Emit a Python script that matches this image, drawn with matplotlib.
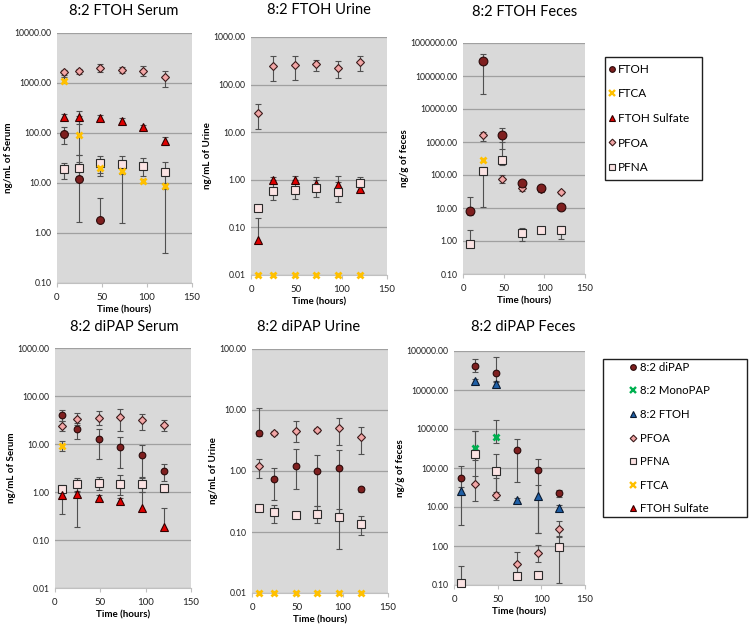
import matplotlib
matplotlib.use("Agg")
import matplotlib.pyplot as plt
from matplotlib.lines import Line2D
from matplotlib.patches import Rectangle
from matplotlib.ticker import FixedLocator, FuncFormatter, NullLocator
import numpy as np

plt.rcParams['font.family'] = ['Lato', 'DejaVu Sans']

times = [8, 24, 48, 72, 96, 120]

# ---------- 8:2 FTOH Serum ----------
s1_ftoh = [94, 12, 1.86, None, None, None]
s1_ftoh_hi = [130, 36, 5, None, None, None]
s1_ftoh_lo = [60, 1.67, 1.86, None, None, None]
s1_ftca = [1120, 91, 19.5, 17.6, 10.9, 8.7]
s1_ftca_hi = [1300, 220, 22, 20, 12, 10]
s1_ftca_lo = [980, 37, 16, 15, 10, 7.5]
s1_sulf = [213, 205, 200, 175, 130, 68]
s1_sulf_hi = [240, 275, 225, 195, 145, 85]
s1_sulf_lo = [190, 150, 180, 160, 118, 58]
s1_pfoa = [1650, 1700, 2000, 1840, 1760, 1310]
s1_pfoa_hi = [1850, 1900, 2350, 2100, 2150, 1760]
s1_pfoa_lo = [1450, 1500, 1650, 1550, 1400, 826]
s1_pfna = [18.7, 20, 25.5, 23.5, 22, 16.8]
s1_pfna_hi = [25, 26, 34, 34, 31, 26]
s1_pfna_lo = [12, 14, 13.5, 1.6, 14, 0.4]

# ---------- 8:2 FTOH Urine ----------
u1_ftca = [0.01, 0.01, 0.01, 0.01, 0.01, 0.01]
u1_sulf = [0.055, 1.0, 1.0, 0.82, 0.76, 0.64]
u1_sulf_hi = [0.158, 1.15, 1.2, 1.0, 0.9, 0.7]
u1_sulf_lo = [0.05, 0.85, 0.85, 0.7, 0.65, 0.58]
u1_pfoa = [25.3, 250, 255, 271, 220, 303]
u1_pfoa_hi = [40, 390, 400, 334, 307, 405]
u1_pfoa_lo = [11.7, 121, 127, 196, 137, 196]
u1_pfna = [0.256, 0.57, 0.62, 0.66, 0.56, 0.84]
u1_pfna_hi = [0.3, 1.0, 1.0, 1.13, 1.2, 1.13]
u1_pfna_lo = [0.22, 0.37, 0.4, 0.43, 0.35, 0.56]

# ---------- 8:2 FTOH Feces ----------
f1_ftoh = [8.2, 285000, 1680, 58, 39, 10.6]
f1_ftoh_hi = [22, 475000, 2650, 65, 46, 12]
f1_ftoh_lo = [6, 29000, 630, 50, 30, 9]
f1_ftca = [None, 293, None, None, None, None]
f1_pfoa = [None, 1600, 78, 39, 37, 29.5]
f1_pfoa_hi = [None, 2000, 100, 45, 44, 33]
f1_pfoa_lo = [None, 1100, 58, 32, 30, 26]
f1_pfna = [0.79, 133, 293, 1.8, 2.1, 2.1]
f1_pfna_hi = [2.1, 180, 1000, 2.5, 2.4, 2.8]
f1_pfna_lo = [0.7, 10.5, 200, 1.0, 1.8, 1.15]

# ---------- 8:2 diPAP Serum ----------
s2_dipap = [40.8, 20.5, 12.7, 8.5, 5.8, 2.8]
s2_dipap_hi = [52, 27, 21, 14, 9.6, 3.9]
s2_dipap_lo = [30, 13, 4.8, 3.1, 2.1, 1.7]
s2_pfoa = [23.3, 33.7, 35, 36.7, 32, 25]
s2_pfoa_hi = [30, 44, 48, 53, 43, 31]
s2_pfoa_lo = [19, 25, 25, 19, 20, 19]
s2_pfna = [1.17, 1.5, 1.54, 1.5, 1.5, 1.23]
s2_pfna_hi = [1.4, 2.0, 2.1, 2.3, 2.0, 1.5]
s2_pfna_lo = [1.0, 1.05, 1.1, 0.85, 1.0, 1.0]
s2_ftca = [9.2, None, None, None, None, None]
s2_ftca_hi = [11.5, None, None, None, None, None]
s2_ftca_lo = [7.2, None, None, None, None, None]
s2_sulf = [0.88, 0.9, 0.75, 0.66, 0.46, 0.19]
s2_sulf_hi = [1.0, 1.0, 0.85, 0.75, 1.0, 0.46]
s2_sulf_lo = [0.34, 0.19, 0.65, 0.58, 0.4, 0.17]

# ---------- 8:2 diPAP Urine ----------
u2_dipap = [4.27, 0.73, 1.2, 1.0, 1.1, 0.5]
u2_dipap_hi = [10.7, 1.1, 2.3, 1.85, 2.2, 0.55]
u2_dipap_lo = [3.8, 0.34, 0.5, 0.27, 0.17, 0.45]
u2_pfoa = [1.22, 4.27, 4.5, 4.7, 5.0, 3.6]
u2_pfoa_hi = [1.6, 4.6, 6.5, 5.1, 7.3, 5.3]
u2_pfoa_lo = [0.78, 3.9, 3.0, 4.3, 2.7, 1.9]
u2_pfna = [0.25, 0.21, 0.187, 0.2, 0.174, 0.136]
u2_pfna_hi = [0.27, 0.28, 0.2, 0.27, 0.24, 0.18]
u2_pfna_lo = [0.23, 0.14, 0.175, 0.14, 0.053, 0.09]
u2_ftca = [0.01, 0.01, 0.01, 0.01, 0.01, 0.01]

# ---------- 8:2 diPAP Feces ----------
f2_dipap = [56, 41300, 27300, 287, 88, 22.3]
f2_dipap_hi = [114, 61000, 69000, 570, 175, 28]
f2_dipap_lo = [3.5, 29000, 16000, 43, 2.1, 18]
f2_mono = [None, 329, 630, None, None, None]
f2_mono_hi = [None, 880, 1750, None, None, None]
f2_mono_lo = [None, 160, 425, None, None, None]
f2_ftoh = [26, 16700, 14600, 15, 19.4, 9.6]
f2_ftoh_hi = [32, 19000, 17000, 17, 37, 11]
f2_ftoh_lo = [20, 14000, 12500, 13, 2.1, 8.5]
f2_pfoa = [None, 39.4, 20.2, 0.34, 0.68, 2.67]
f2_pfoa_hi = [None, 63, 55, 0.7, 1.05, 4.5]
f2_pfoa_lo = [None, 14.3, 15, 0.2, 0.38, 1.75]
f2_pfna = [0.11, 226, 85, 0.174, 0.18, 0.96]
f2_pfna_hi = [0.3, 870, 230, 0.2, 0.21, 1.8]
f2_pfna_lo = [0.1, 40, 24, 0.15, 0.15, 0.11]

leg1_labels = ['FTOH', 'FTCA', 'FTOH Sulfate', 'PFOA', 'PFNA']
leg2_labels = ['8:2 diPAP', '8:2 MonoPAP', '8:2 FTOH', 'PFOA', 'PFNA', 'FTCA', 'FTOH Sulfate']

# ---------- styles ----------
C_DARKRED = '#7F1F1F'
C_YEL = '#FFC000'
C_RED = '#E00000'
C_PINK = '#F2A6A6'
C_LPINK = '#FBE3E3'
C_GREEN = '#00B050'
C_BLUE = '#1F5FA6'

STY = {
    'circle': dict(marker='o', mfc=C_DARKRED, mec='#2a0a0a', ms=5.6, mew=0.8),
    'circle_b': dict(marker='o', mfc=C_DARKRED, mec='#2a0a0a', ms=6.3, mew=0.8),
    'circle_s': dict(marker='o', mfc=C_DARKRED, mec='#2a0a0a', ms=4.8, mew=0.8),
    'x': dict(marker='x', mfc=C_YEL, mec=C_YEL, ms=4.6, mew=2.0),
    'xg': dict(marker='x', mfc=C_GREEN, mec=C_GREEN, ms=4.6, mew=2.0),
    'tri': dict(marker='^', mfc=C_RED, mec='#300000', ms=5.6, mew=0.8),
    'trib': dict(marker='^', mfc=C_BLUE, mec='#0a1a30', ms=5.2, mew=0.8),
    'dia': dict(marker='D', mfc=C_PINK, mec='#3a1a1a', ms=4.0, mew=0.8),
    'sq': dict(marker='s', mfc=C_LPINK, mec='#2a2a2a', ms=5.3, mew=0.8),
}


def series(ax, y, hi=None, lo=None, style='circle'):
    xs, ys, eh, el = [], [], [], []
    for i, v in enumerate(y):
        if v is None:
            continue
        xs.append(times[i])
        ys.append(v)
        if hi is not None:
            eh.append(max(hi[i] - v, 0))
            el.append(max(v - lo[i], 0))
    if hi is not None:
        ax.errorbar(xs, ys, yerr=[el, eh], fmt='none', ecolor='#505050',
                    elinewidth=0.8, capsize=2.3, capthick=0.8, zorder=3)
    ax.plot(xs, ys, linestyle='none', zorder=4, clip_on=False, **STY[style])


W, H = 755.0, 625.0
fig = plt.figure(figsize=(7.55, 6.25), dpi=100)


def mkax(x0, x1, y0, y1):
    return fig.add_axes([x0 / W, (H - y1) / H, (x1 - x0) / W, (y1 - y0) / H])


def setup(ax, ymin, ymax, title, ylabel, tx, ty):
    ax.set_facecolor('#D9D9D9')
    ax.set_yscale('log')
    ax.set_ylim(ymin, ymax)
    ax.set_xlim(0, 150)
    dec = np.arange(int(round(np.log10(ymin))), int(round(np.log10(ymax))) + 1)
    ticks = [10.0 ** d for d in dec]
    ax.yaxis.set_major_locator(FixedLocator(ticks))
    ax.yaxis.set_minor_locator(NullLocator())
    ax.yaxis.set_major_formatter(FuncFormatter(lambda v, p: '%.2f' % v))
    ax.set_xticks([0, 50, 100, 150])
    ax.grid(axis='y', color='#A0A0A0', linewidth=0.9)
    ax.set_axisbelow(True)
    for s in ['top', 'right', 'left']:
        ax.spines[s].set_visible(False)
    ax.spines['bottom'].set_color('#C0C0C0')
    ax.tick_params(axis='y', length=0, labelsize=6.2, pad=4, colors='#202020')
    ax.tick_params(axis='x', length=3, color='#C0C0C0', labelsize=7, pad=4, colors='#202020')
    ax.set_ylabel(ylabel, fontsize=7, fontweight='bold', labelpad=1)
    ax.set_xlabel('Time (hours)', fontsize=7, fontweight='bold', labelpad=3)
    fig.text(tx / W, 1 - ty / H, title, fontsize=10.5, ha='center', va='center')


# Panel 1
ax = mkax(57, 192, 33, 283)
setup(ax, 0.1, 10000, '8:2 FTOH Serum', 'ng/mL of Serum', 124, 11)
series(ax, s1_pfoa, s1_pfoa_hi, s1_pfoa_lo, 'dia')
series(ax, s1_sulf, s1_sulf_hi, s1_sulf_lo, 'tri')
series(ax, s1_pfna, s1_pfna_hi, s1_pfna_lo, 'sq')
series(ax, s1_ftoh, s1_ftoh_hi, s1_ftoh_lo, 'circle')
series(ax, s1_ftca, s1_ftca_hi, s1_ftca_lo, 'x')

# Panel 2
ax = mkax(251, 387, 37, 275)
setup(ax, 0.01, 1000, '8:2 FTOH Urine', 'ng/mL of Urine', 319, 10)
series(ax, u1_pfoa, u1_pfoa_hi, u1_pfoa_lo, 'dia')
series(ax, u1_sulf, u1_sulf_hi, u1_sulf_lo, 'tri')
series(ax, u1_pfna, u1_pfna_hi, u1_pfna_lo, 'sq')
series(ax, u1_ftca, None, None, 'x')

# Panel 3
ax = mkax(463, 585, 43, 274)
setup(ax, 0.1, 1000000, '8:2 FTOH Feces', 'ng/g of feces', 525, 12)
series(ax, f1_pfoa, f1_pfoa_hi, f1_pfoa_lo, 'dia')
series(ax, f1_pfna, f1_pfna_hi, f1_pfna_lo, 'sq')
series(ax, f1_ftoh, f1_ftoh_hi, f1_ftoh_lo, 'circle_b')
series(ax, f1_ftca, None, None, 'x')

# Panel 4
ax = mkax(55, 191, 348, 588)
setup(ax, 0.01, 1000, '8:2 diPAP Serum', 'ng/mL of Serum', 124, 327)
series(ax, s2_pfoa, s2_pfoa_hi, s2_pfoa_lo, 'dia')
series(ax, s2_dipap, s2_dipap_hi, s2_dipap_lo, 'circle_s')
series(ax, s2_pfna, s2_pfna_hi, s2_pfna_lo, 'sq')
series(ax, s2_sulf, s2_sulf_hi, s2_sulf_lo, 'tri')
series(ax, s2_ftca, s2_ftca_hi, s2_ftca_lo, 'x')

# Panel 5
ax = mkax(252, 388, 349, 593)
setup(ax, 0.01, 100, '8:2 diPAP Urine', 'ng/mL of Urine', 309, 327)
series(ax, u2_pfoa, u2_pfoa_hi, u2_pfoa_lo, 'dia')
series(ax, u2_dipap, u2_dipap_hi, u2_dipap_lo, 'circle_s')
series(ax, u2_pfna, u2_pfna_hi, u2_pfna_lo, 'sq')
series(ax, u2_ftca, None, None, 'x')

# Panel 6
ax = mkax(454, 585, 351, 585)
setup(ax, 0.1, 100000, '8:2 diPAP Feces', 'ng/g of feces', 523, 327)
series(ax, f2_dipap, f2_dipap_hi, f2_dipap_lo, 'circle_s')
series(ax, f2_ftoh, f2_ftoh_hi, f2_ftoh_lo, 'trib')
series(ax, f2_mono, f2_mono_hi, f2_mono_lo, 'xg')
series(ax, f2_pfoa, f2_pfoa_hi, f2_pfoa_lo, 'dia')
series(ax, f2_pfna, f2_pfna_hi, f2_pfna_lo, 'sq')

# Legends
leg1_styles = ['circle_s', 'x', 'tri', 'dia', 'sq']
leg2_styles = ['circle_s', 'xg', 'trib', 'dia', 'sq', 'x', 'tri']


def handles(styles):
    hs = []
    for s in styles:
        st = dict(STY[s])
        st['ms'] = st['ms'] * 0.85
        if s in ('x', 'xg'):
            st['mew'] = 1.7
        hs.append(Line2D([], [], linestyle='none', **st))
    return hs


def framed_legend(box, styles, labels, fs, spacing, anchor_x):
    x0, x1, y0, y1 = box
    lax = mkax(x0, x1, y0, y1)
    lax.set_xlim(0, 1)
    lax.set_ylim(0, 1)
    lax.axis('off')
    lax.add_patch(Rectangle((0, 0), 1, 1, transform=lax.transAxes, fill=False,
                            edgecolor='#202020', linewidth=1.0, clip_on=False))
    lg = lax.legend(handles(styles), labels, loc='center left',
                    bbox_to_anchor=(anchor_x, 0.5), fontsize=fs, frameon=False,
                    handletextpad=0.15, handlelength=0.8, labelspacing=spacing,
                    borderpad=0, borderaxespad=0)
    return lg


framed_legend((605, 702, 57, 180), leg1_styles, leg1_labels, 8.5, 1.15, 0.02)
framed_legend((603, 747, 359, 517), leg2_styles, leg2_labels, 8.2, 1.1, 0.18)

fig.savefig('out.png', dpi=100, facecolor='white')
